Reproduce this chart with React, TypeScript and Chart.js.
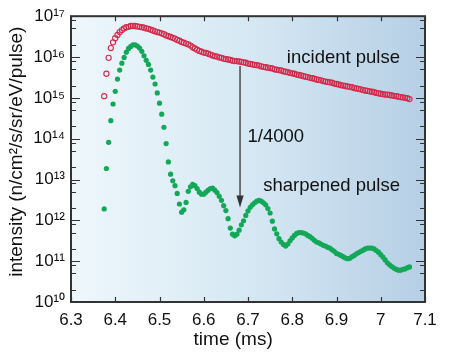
import React, { useEffect, useRef } from "react";
import { Chart, registerables } from "chart.js";

Chart.register(...registerables);

// ---- data (time in ms, intensity stored as log10 of n/cm²/s/sr/eV/pulse) ----
const TIME_MS = [
  6.375, 6.38, 6.385, 6.39, 6.395, 6.4, 6.405, 6.41, 6.415, 6.42,
  6.425, 6.43, 6.435, 6.44, 6.445, 6.45, 6.455, 6.46, 6.465, 6.47,
  6.475, 6.48, 6.485, 6.49, 6.495, 6.5, 6.505, 6.51, 6.515, 6.52,
  6.525, 6.53, 6.535, 6.54, 6.545, 6.55, 6.555, 6.56, 6.565, 6.57,
  6.575, 6.58, 6.585, 6.59, 6.595, 6.6, 6.605, 6.61, 6.615, 6.62,
  6.625, 6.63, 6.635, 6.64, 6.645, 6.65, 6.655, 6.66, 6.665, 6.67,
  6.675, 6.68, 6.685, 6.69, 6.695, 6.7, 6.705, 6.71, 6.715, 6.72,
  6.725, 6.73, 6.735, 6.74, 6.745, 6.75, 6.755, 6.76, 6.765, 6.77,
  6.775, 6.78, 6.785, 6.79, 6.795, 6.8, 6.805, 6.81, 6.815, 6.82,
  6.825, 6.83, 6.835, 6.84, 6.845, 6.85, 6.855, 6.86, 6.865, 6.87,
  6.875, 6.88, 6.885, 6.89, 6.895, 6.9, 6.905, 6.91, 6.915, 6.92,
  6.925, 6.93, 6.935, 6.94, 6.945, 6.95, 6.955, 6.96, 6.965, 6.97,
  6.975, 6.98, 6.985, 6.99, 6.995, 7.0, 7.005, 7.01, 7.015, 7.02,
  7.025, 7.03, 7.035, 7.04, 7.045, 7.05, 7.055, 7.06, 7.065,
];

const INCIDENT_LOG10 = [
  15.04, 15.59, 15.98, 16.22, 16.36, 16.46, 16.54, 16.61, 16.66, 16.70,
  16.73, 16.74, 16.76, 16.76, 16.76, 16.75, 16.74, 16.73, 16.72, 16.70,
  16.69, 16.67, 16.65, 16.63, 16.61, 16.60, 16.58, 16.56, 16.53, 16.51,
  16.49, 16.47, 16.45, 16.42, 16.40, 16.37, 16.35, 16.33, 16.31, 16.28,
  16.24, 16.21, 16.18, 16.15, 16.13, 16.11, 16.10, 16.08, 16.06, 16.04,
  16.02, 16.01, 15.99, 15.98, 15.96, 15.95, 15.94, 15.93, 15.91, 15.90,
  15.90, 15.89, 15.88, 15.87, 15.86, 15.84, 15.83, 15.82, 15.81, 15.80,
  15.79, 15.77, 15.76, 15.75, 15.74, 15.73, 15.72, 15.70, 15.69, 15.68,
  15.67, 15.65, 15.64, 15.63, 15.61, 15.60, 15.59, 15.57, 15.56, 15.55,
  15.53, 15.52, 15.51, 15.49, 15.48, 15.47, 15.45, 15.44, 15.43, 15.41,
  15.40, 15.39, 15.38, 15.37, 15.35, 15.34, 15.33, 15.31, 15.30, 15.29,
  15.28, 15.27, 15.26, 15.24, 15.23, 15.22, 15.21, 15.19, 15.18, 15.17,
  15.16, 15.15, 15.14, 15.12, 15.11, 15.10, 15.09, 15.08, 15.08, 15.07,
  15.06, 15.05, 15.04, 15.03, 15.02, 15.01, 15.00, 14.99, 14.97,
];

const SHARPENED_LOG10 = [
  12.28, 13.27, 13.91, 14.44, 14.85, 15.16, 15.46, 15.68, 15.85, 15.99,
  16.12, 16.21, 16.26, 16.30, 16.30, 16.27, 16.22, 16.14, 16.03, 15.92,
  15.82, 15.68, 15.51, 15.34, 15.12, 14.87, 14.60, 14.28, 13.88, 13.43,
  13.13, 12.97, 12.85, 12.66, 12.40, 12.20, 12.26, 12.44, 12.71, 12.82,
  12.88, 12.85, 12.78, 12.69, 12.64, 12.64, 12.69, 12.74, 12.78, 12.79,
  12.74, 12.68, 12.59, 12.49, 12.36, 12.24, 12.04, 11.81, 11.66, 11.62,
  11.66, 11.76, 11.89, 11.99, 12.12, 12.23, 12.32, 12.38, 12.43, 12.47,
  12.49, 12.47, 12.43, 12.38, 12.29, 12.18, 11.98, 11.79, 11.67, 11.55,
  11.47, 11.41, 11.37, 11.42, 11.50, 11.57, 11.63, 11.68, 11.70, 11.70,
  11.69, 11.67, 11.63, 11.60, 11.56, 11.51, 11.47, 11.45, 11.42, 11.39,
  11.37, 11.34, 11.32, 11.28, 11.24, 11.19, 11.17, 11.14, 11.11, 11.08,
  11.06, 11.07, 11.11, 11.14, 11.18, 11.21, 11.24, 11.27, 11.30, 11.32,
  11.32, 11.32, 11.30, 11.26, 11.22, 11.16, 11.10, 11.03, 10.96, 10.91,
  10.87, 10.83, 10.80, 10.78, 10.78, 10.80, 10.81, 10.84, 10.86,
];

const X_TICKS = [6.3, 6.4, 6.5, 6.6, 6.7, 6.8, 6.9, 7.0, 7.1];
const X_TICK_LABELS = ["6.3", "6.4", "6.5", "6.6", "6.7", "6.8", "6.9", "7", "7.1"];
const Y_DECADES = [10, 11, 12, 13, 14, 15, 16, 17];
const Y_TICK_LABELS = ["10¹⁰", "10¹¹", "10¹²", "10¹³", "10¹⁴", "10¹⁵", "10¹⁶", "10¹⁷"];
const Y_MINOR_FACTORS = [2, 5, 8];

const SERIES_NAMES = ["incident pulse", "sharpened pulse"];
const X_TITLE = "time (ms)";
const Y_TITLE = "intensity (n/cm²/s/sr/eV/pulse)";
const RATIO_TEXT = "1/4000";

// annotation anchors in data coordinates
const ARROW_TIME = 6.682;
const ARROW_FROM = 6.0e15;
const ARROW_TO = 2.05e12;
const INCIDENT_LABEL_AT = { x: 7.0435, y: 7.1e15 };
const SHARPENED_LABEL_AT = { x: 7.0435, y: 5.1e12 };
const RATIO_LABEL_AT = { x: 6.699, y: 8.1e13 };

const FONT = '"Liberation Sans", Arial, Helvetica, sans-serif';

const chartDecor = {
  id: "chartDecor",
  beforeDraw(chart: any) {
    const { ctx, chartArea: a } = chart;
    ctx.save();
    ctx.fillStyle = "#ffffff";
    ctx.fillRect(0, 0, chart.width, chart.height);
    const g = ctx.createLinearGradient(a.left, 0, a.right, 0);
    g.addColorStop(0, "#eef7fc");
    g.addColorStop(0.5, "#d6e8f3");
    g.addColorStop(1, "#b6cfe5");
    ctx.fillStyle = g;
    ctx.fillRect(a.left, a.top, a.right - a.left, a.bottom - a.top);
    ctx.restore();
  },
  afterDatasetsDraw(chart: any) {
    const { ctx, scales } = chart;
    const x = scales.x;
    const y = scales.y;
    ctx.save();
    // arrow
    const ax = x.getPixelForValue(ARROW_TIME);
    const y0 = y.getPixelForValue(ARROW_FROM);
    const y1 = y.getPixelForValue(ARROW_TO);
    ctx.strokeStyle = "#333";
    ctx.lineWidth = 1.3;
    ctx.beginPath();
    ctx.moveTo(ax, y0);
    ctx.lineTo(ax, y1 - 10);
    ctx.stroke();
    ctx.fillStyle = "#333";
    ctx.beginPath();
    ctx.moveTo(ax, y1);
    ctx.lineTo(ax - 3.6, y1 - 12);
    ctx.lineTo(ax + 3.6, y1 - 12);
    ctx.closePath();
    ctx.fill();

    // annotation text
    ctx.fillStyle = "#111";
    ctx.font = `18.5px ${FONT}`;
    ctx.textBaseline = "alphabetic";
    ctx.textAlign = "right";
    ctx.fillText(SERIES_NAMES[0], x.getPixelForValue(INCIDENT_LABEL_AT.x), y.getPixelForValue(INCIDENT_LABEL_AT.y));
    ctx.fillText(SERIES_NAMES[1], x.getPixelForValue(SHARPENED_LABEL_AT.x), y.getPixelForValue(SHARPENED_LABEL_AT.y));
    ctx.textAlign = "left";
    ctx.fillText(RATIO_TEXT, x.getPixelForValue(RATIO_LABEL_AT.x), y.getPixelForValue(RATIO_LABEL_AT.y));
    ctx.restore();
  },
  afterDraw(chart: any) {
    const { ctx, chartArea: a, scales } = chart;
    const x = scales.x;
    const y = scales.y;
    ctx.save();
    ctx.strokeStyle = "#333";
    ctx.lineWidth = 1.2;
    ctx.beginPath();
    for (const t of x.ticks) {
      const px = Math.round(x.getPixelForValue(t.value)) + 0.5;
      ctx.moveTo(px, a.bottom);
      ctx.lineTo(px, a.bottom - 5);
      ctx.moveTo(px, a.top);
      ctx.lineTo(px, a.top + 5);
    }
    for (const t of y.ticks) {
      const py = Math.round(y.getPixelForValue(t.value)) + 0.5;
      const len = t.major ? 9 : 5;
      ctx.moveTo(a.left, py);
      ctx.lineTo(a.left + len, py);
      ctx.moveTo(a.right, py);
      ctx.lineTo(a.right - len, py);
    }
    ctx.stroke();
    ctx.lineWidth = 2;
    ctx.strokeStyle = "#333";
    ctx.strokeRect(a.left, a.top, a.right - a.left, a.bottom - a.top);

    // axis titles
    ctx.fillStyle = "#111";
    ctx.font = `19px ${FONT}`;
    ctx.textAlign = "center";
    ctx.textBaseline = "alphabetic";
    ctx.fillText(X_TITLE, a.left + (a.right - a.left) * 0.458, a.bottom + 43);
    ctx.translate(a.left - 49, a.top + (a.bottom - a.top) * 0.474);
    ctx.rotate(-Math.PI / 2);
    ctx.fillText(Y_TITLE, 0, 0);
    ctx.restore();
  },
};

export default function App() {
  const ref = useRef<HTMLCanvasElement | null>(null);

  useEffect(() => {
    document.body.style.margin = "0";
    const canvas = ref.current;
    if (!canvas) return;

    const yTicks: { value: number; major: boolean }[] = [];
    Y_DECADES.forEach((d, i) => {
      yTicks.push({ value: Math.pow(10, d), major: true });
      if (i < Y_DECADES.length - 1) {
        Y_MINOR_FACTORS.forEach((f) => yTicks.push({ value: f * Math.pow(10, d), major: false }));
      }
    });

    const chart = new Chart(canvas, {
      type: "scatter",
      data: {
        datasets: [
          {
            label: SERIES_NAMES[0],
            data: TIME_MS.map((t, i) => ({ x: t, y: Math.pow(10, INCIDENT_LOG10[i]) })),
            pointStyle: "circle",
            pointRadius: 2.6,
            borderWidth: 1.1,
            borderColor: "#d42a4c",
            backgroundColor: "rgba(0,0,0,0)",
            showLine: false,
          },
          {
            label: SERIES_NAMES[1],
            data: TIME_MS.map((t, i) => ({ x: t, y: Math.pow(10, SHARPENED_LOG10[i]) })),
            pointStyle: "circle",
            pointRadius: 2.6,
            borderWidth: 0,
            borderColor: "#12a858",
            backgroundColor: "#12a858",
            showLine: false,
          },
        ],
      },
      options: {
        responsive: false,
        animation: false,
        devicePixelRatio: 1,
        layout: { padding: { left: 0, right: 25, top: 15, bottom: 0 } },
        plugins: {
          legend: { display: false },
          tooltip: { enabled: false },
        },
        scales: {
          x: {
            type: "linear",
            min: 6.3,
            max: 7.1,
            afterBuildTicks: (s: any) => {
              s.ticks = X_TICKS.map((v) => ({ value: v }));
            },
            afterFit: (s: any) => {
              s.height = 59;
            },
            ticks: {
              autoSkip: false,
              maxRotation: 0,
              padding: 8,
              color: "#111",
              font: { family: FONT, size: 17 },
              callback: (_v: any, i: number) => X_TICK_LABELS[i],
            },
            grid: { display: false, drawTicks: false },
            border: { display: false },
          },
          y: {
            type: "logarithmic",
            min: 1e10,
            max: 1e17,
            afterBuildTicks: (s: any) => {
              s.ticks = yTicks.map((t) => ({ ...t }));
            },
            afterFit: (s: any) => {
              s.width = 71;
            },
            ticks: {
              autoSkip: false,
              padding: 6,
              color: "#111",
              font: { family: FONT, size: 17 },
              callback: (v: any) => {
                const d = Math.round(Math.log10(v));
                if (Math.abs(v - Math.pow(10, d)) > 1e-6 * v) return "";
                const idx = Y_DECADES.indexOf(d);
                return idx >= 0 ? Y_TICK_LABELS[idx] : "";
              },
            },
            grid: { display: false, drawTicks: false },
            border: { display: false },
          },
        },
      },
      plugins: [chartDecor],
    } as any);

    return () => chart.destroy();
  }, []);

  return (
    <div style={{ width: 450, height: 361 }}>
      <canvas ref={ref} width={450} height={361} style={{ display: "block" }} />
    </div>
  );
}
